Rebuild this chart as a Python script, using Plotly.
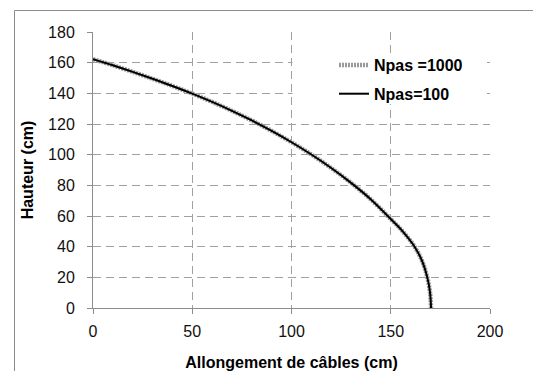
import plotly.graph_objects as go

# Data
allongement_1000 = [0, 10, 20, 30, 40, 50, 60, 70, 80, 90, 100, 110, 120, 130, 140, 150, 156, 162, 166, 168.4, 169.8, 170.3]
hauteur_1000 = [162.3, 158.3, 154.0, 149.5, 144.8, 139.8, 134.4, 128.6, 122.3, 115.5, 108.1, 100.1, 91.3, 81.6, 70.8, 58.0, 50, 40, 30, 20, 10, 0]
allongement_100 = [0, 10, 20, 30, 40, 50, 60, 70, 80, 90, 100, 110, 120, 130, 140, 150, 156, 162, 166, 168.4, 169.8, 170.3]
hauteur_100 = [162.3, 158.3, 154.0, 149.5, 144.8, 139.8, 134.4, 128.6, 122.3, 115.5, 108.1, 100.1, 91.3, 81.6, 70.8, 58.0, 50, 40, 30, 20, 10, 0]

x_ticks = [0, 50, 100, 150, 200]
y_ticks = [0, 20, 40, 60, 80, 100, 120, 140, 160, 180]

FONT = "Liberation Sans, Arial, sans-serif"
FS = 16

fig = go.Figure()
fig.add_trace(go.Scatter(
    x=allongement_1000, y=hauteur_1000, mode="lines", name="Npas =1000",
    legendgroup="a",
    line=dict(color="#9a9a9a", width=4.5, shape="spline", smoothing=1, dash="2px,1px"),
))
fig.add_trace(go.Scatter(
    x=allongement_100, y=hauteur_100, mode="lines", name="Npas=100",
    legendgroup="b",
    line=dict(color="#000000", width=2, shape="spline", smoothing=1),
))

L, R, T, B = 93, 43, 32, 63
W, H = 533, 371
pw = W - L - R
ph = H - T - B


def px(xp):
    return (xp - L) / pw


def py(yp):
    return (H - B - yp) / ph


fig.update_layout(
    width=W, height=H,
    margin=dict(l=L, r=R, t=T, b=B, pad=0, autoexpand=False),
    paper_bgcolor="white", plot_bgcolor="white",
    font=dict(family=FONT, size=FS, color="#111111"),
    showlegend=True,
    legend=dict(
        x=px(334), y=py(48), xanchor="left", yanchor="top",
        bgcolor="rgba(0,0,0,0)", borderwidth=0,
        font=dict(family=FONT, size=FS, color="#000000", weight="bold"),
        tracegroupgap=5, itemwidth=30,
    ),
    xaxis=dict(
        range=[0, 200], tickvals=x_ticks, ticktext=[str(v) for v in x_ticks],
        automargin=False,
        showgrid=True, gridcolor="#a0a0a0", griddash="8px,5px", gridwidth=1,
        showline=True, linecolor="#8c8c8c", linewidth=1, zeroline=False,
        ticks="outside", ticklen=5, tickcolor="#8c8c8c",
        ticklabelstandoff=4,
        title=dict(text="Allongement de câbles (cm)", standoff=24,
                   font=dict(family=FONT, size=FS, color="#000000", weight="bold")),
    ),
    yaxis=dict(
        range=[0, 180], tickvals=y_ticks, ticktext=[str(v) for v in y_ticks],
        automargin=False,
        showgrid=True, gridcolor="#a0a0a0", griddash="8px,5px", gridwidth=1,
        showline=True, linecolor="#8c8c8c", linewidth=1, zeroline=False,
        ticks="outside", ticklen=5, tickcolor="#8c8c8c",
        ticklabelstandoff=9,
        title=dict(text="Hauteur (cm)", standoff=10,
                   font=dict(family=FONT, size=FS, color="#000000", weight="bold")),
    ),
)

# white legend box hiding the gridlines behind the legend (legend draws on top)
fig.add_shape(type="rect", xref="paper", yref="paper",
              x0=px(292.5), x1=px(487), y0=py(104), y1=py(56),
              line=dict(width=0), fillcolor="white", layer="above")

# chart-area border (top and left edges visible, rest runs off-canvas)
bx = px(14.5)
by = py(10.5)
fig.add_shape(type="line", xref="paper", yref="paper",
              x0=bx, x1=px(W), y0=by, y1=by,
              line=dict(color="#8c8c8c", width=1), layer="above")
fig.add_shape(type="line", xref="paper", yref="paper",
              x0=bx, x1=bx, y0=by, y1=py(H),
              line=dict(color="#8c8c8c", width=1), layer="above")

fig.write_html(
    "out.html",
    config={"displayModeBar": False},
    post_script="document.body.style.margin='0px';document.body.style.overflow='hidden';",
)
